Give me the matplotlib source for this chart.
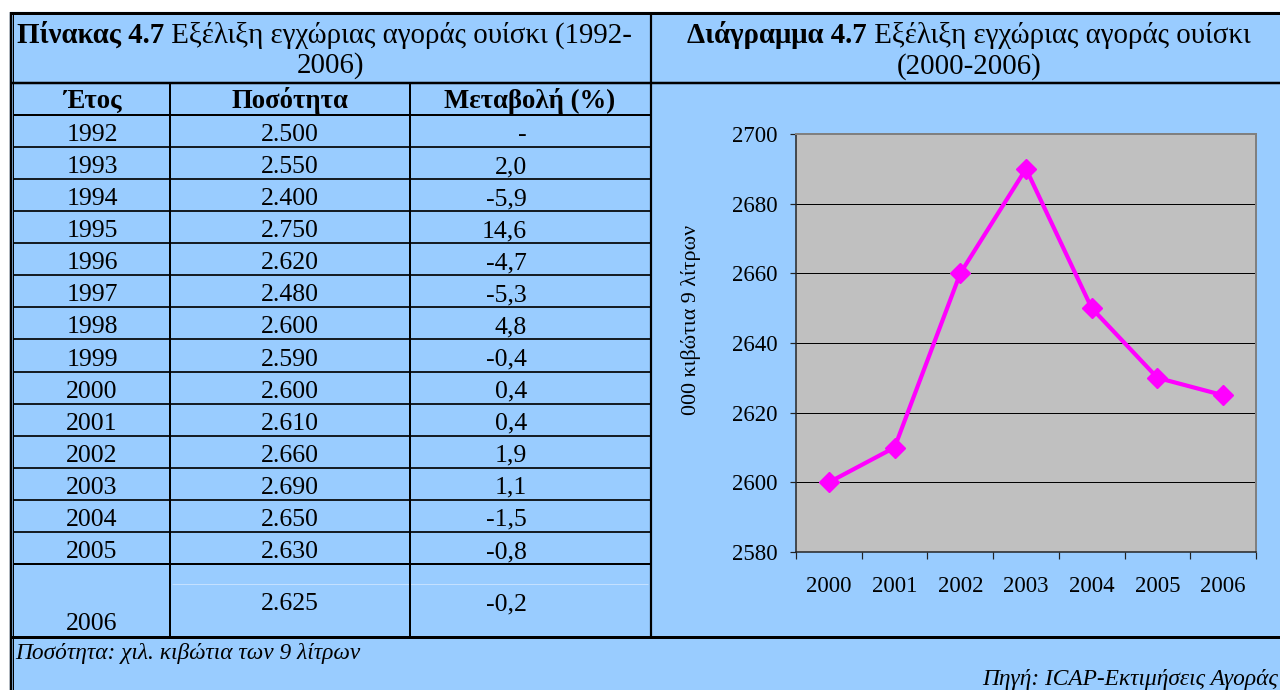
import matplotlib
matplotlib.use('Agg')
import matplotlib.pyplot as plt

plt.rcParams['font.family'] = ['Liberation Serif', 'DejaVu Serif']

# table data (1992-2006)
years = [1992, 1993, 1994, 1995, 1996, 1997, 1998, 1999,
         2000, 2001, 2002, 2003, 2004, 2005, 2006]
quantity = [2500, 2550, 2400, 2750, 2620, 2480, 2600, 2590,
            2600, 2610, 2660, 2690, 2650, 2630, 2625]
change = [None, 2.0, -5.9, 14.6, -4.7, -5.3, 4.8, -0.4,
          0.4, 0.4, 1.9, 1.1, -1.5, -0.8, -0.2]

# chart data (2000-2006)
chart_years = ['2000', '2001', '2002', '2003', '2004', '2005', '2006']
chart_values = [2600, 2610, 2660, 2690, 2650, 2630, 2625]
y_ticks = [2580, 2600, 2620, 2640, 2660, 2680, 2700]

BG = '#99CCFF'
FS = 18.5      # table body
FS_T = 20.8    # titles
FS_H = 19.3    # column headers
PX = 0.72      # points per pixel at dpi 100

fig = plt.figure(figsize=(12.8, 6.9), dpi=100, facecolor='white')
bg = fig.add_axes([0, 0, 1, 1])
bg.set_xlim(0, 1280)
bg.set_ylim(690, 0)
bg.axis('off')

bg.add_patch(plt.Rectangle((10, 12), 1270, 678, color=BG, zorder=0))

def hline(y, x0, x1, w, c='black'):
    bg.plot([x0, x1], [y, y], color=c, lw=w * PX, solid_capstyle='butt', zorder=2)

def vline(x, y0, y1, w, c='black'):
    bg.plot([x, x], [y0, y1], color=c, lw=w * PX, solid_capstyle='butt', zorder=2)

# borders
hline(13, 10, 1280, 3)
vline(10.5, 12, 690, 2.5)
vline(13, 12, 690, 1)
hline(83, 10, 1280, 2.5)
hline(115, 13, 650, 2)
row_h = 32.07
for k in range(1, 14):
    hline(115 + row_h * k, 13, 650, 1.7)
hline(564, 13, 650, 2)
hline(584, 172, 648, 1, c='#c4e0ff')
hline(637, 10, 1280, 3)
vline(170, 83, 637, 2)
vline(410, 83, 637, 2)
vline(651, 12, 637, 2.2)

r = fig.canvas.get_renderer()

def mixed(x, y, bold, rest, ha='left'):
    t1 = bg.text(0, y, bold, fontsize=FS_T, weight='bold', va='baseline')
    t2 = bg.text(0, y, rest, fontsize=FS_T, va='baseline')
    w1 = t1.get_window_extent(r).width
    w2 = t2.get_window_extent(r).width
    x0 = x if ha == 'left' else x - (w1 + w2) / 2
    t1.set_x(x0)
    t2.set_x(x0 + w1)

# titles
mixed(17, 43, 'Πίνακας 4.7', ' Εξέλιξη εγχώριας αγοράς ουίσκι (1992-')
bg.text(331, 73, '2006)', fontsize=FS_T, ha='center', va='baseline')
mixed(969, 43, 'Διάγραμμα 4.7', ' Εξέλιξη εγχώριας αγοράς ουίσκι', ha='center')
bg.text(969, 74, '(2000-2006)', fontsize=FS_T, ha='center', va='baseline')

# column headers
bg.text(92, 108, 'Έτος', fontsize=FS_H, weight='bold', ha='center', va='baseline')
bg.text(290, 108, 'Ποσότητα', fontsize=FS_H, weight='bold', ha='center', va='baseline')
bg.text(530, 108, 'Μεταβολή (%)', fontsize=FS_H, weight='bold', ha='center', va='baseline')

# rows
for i, (yr, q, c) in enumerate(zip(years, quantity, change)):
    q_txt = f'{q:,}'.replace(',', '.')
    c_txt = '-' if c is None else f'{c:.1f}'.replace('.', ',')
    if i < 14:
        base = 115 + row_h * (i + 1) - 6
        yr_base = q_base = base
    else:
        yr_base = 630
        q_base = 610
    bg.text(92, yr_base, str(yr), fontsize=FS, ha='center', va='baseline')
    bg.text(290, q_base, q_txt, fontsize=FS, ha='center', va='baseline')
    bg.text(527, q_base, c_txt, fontsize=FS, ha='right', va='baseline')

# footers
bg.text(15, 659, 'Ποσότητα: χιλ. κιβώτια των 9 λίτρων', fontsize=16.8,
        style='italic', va='baseline')
bg.text(982, 685, 'Πηγή: ICAP-Εκτιμήσεις Αγοράς', fontsize=16.8,
        style='italic', va='baseline')

# chart
ax = fig.add_axes([796 / 1280, (690 - 552) / 690, 460 / 1280, 418 / 690])
ax.set_facecolor('#C0C0C0')
x = range(len(chart_years))
ax.plot(x, chart_values, color='#FF00FF', lw=3, marker='D', ms=10.5,
        zorder=3, clip_on=False)
ax.set_xlim(-0.5, len(chart_years) - 0.5)
ax.set_ylim(y_ticks[0], y_ticks[-1])
ax.set_yticks(y_ticks)
ax.set_xticks(list(x))
ax.set_xticklabels(chart_years)
ax.set_xticks([i - 0.5 for i in range(len(chart_years) + 1)], minor=True)
ax.set_axisbelow(True)
ax.yaxis.grid(True, color='black', lw=1 * PX)
ax.tick_params(axis='x', which='major', length=0, pad=17, labelsize=16.5)
ax.tick_params(axis='x', which='minor', length=5, width=1.2 * PX,
               direction='out', color='#222222')
ax.tick_params(axis='y', length=6 * PX, width=1.2 * PX, direction='out',
               pad=9, labelsize=16.5, color='#222222')
for s in ['left', 'bottom']:
    ax.spines[s].set_color('#222222')
    ax.spines[s].set_linewidth(1.5 * PX)
for s in ['top', 'right']:
    ax.spines[s].set_color('#808080')
    ax.spines[s].set_linewidth(2 * PX)

bg.text(691, 320, '000 κιβώτια 9 λίτρων', fontsize=15.8, rotation=90,
        ha='center', va='center')

fig.savefig('out.png', dpi=100)
